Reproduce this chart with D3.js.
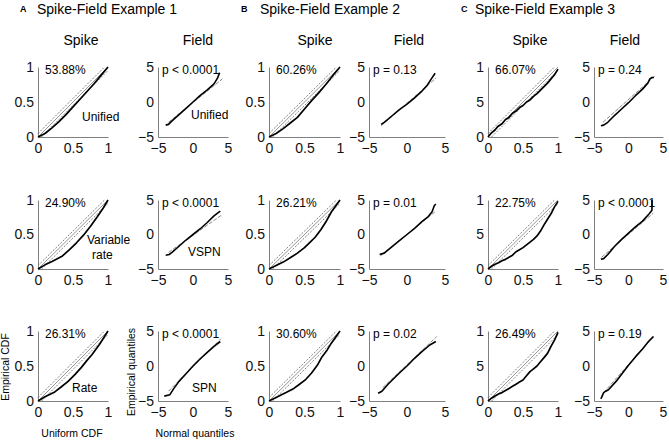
<!DOCTYPE html>
<html>
<head>
<meta charset="utf-8">
<script src="https://cdn.jsdelivr.net/npm/d3@7"></script>
<style>
  body { margin: 0; background: #fff; }
  svg { display: block; font-family: "Liberation Sans", Arial, sans-serif; }
</style>
</head>
<body>
<div id="chart"></div>
<script>
// ---- data ----
const letters = ["A", "B", "C"];
const exampleTitles = ["Spike-Field Example 1", "Spike-Field Example 2", "Spike-Field Example 3"];
const spikeModels = ["Unified", "Variable rate", "Rate"];
const fieldModels = ["Unified", "VSPN", "SPN"];

// KS percent per example (columns) and model (rows)
const ksPercent = [
    ["53.88%", "24.90%", "26.31%"],
    ["60.26%", "26.21%", "30.60%"],
    ["66.07%", "22.75%", "26.49%"]
];
const pValues = [
    ["p < 0.0001", "p < 0.0001", "p < 0.0001"],
    ["p = 0.13", "p = 0.01", "p = 0.02"],
    ["p = 0.24", "p < 0.0001", "p = 0.19"]
];

const spikeTicks = [0, 0.5, 1];
const spikeTickLabels = [["0", "0.5", "1"], ["0", "0.5", "1"], ["0", "5", "1"]];
const fieldTicks = [-5, 0, 5];
const ksBand = 0.05;

// empirical CDF vs uniform CDF  [uniform, empirical]
const ksCurves = [
    [
        [[0,0],[0.1,0.05],[0.2,0.13],[0.3,0.22],[0.4,0.32],[0.5,0.43],[0.6,0.54],[0.7,0.65],[0.8,0.76],[0.9,0.88],[1,1]],
        [[0,0],[0.1,0.06],[0.2,0.11],[0.35,0.19],[0.45,0.28],[0.55,0.38],[0.65,0.49],[0.75,0.62],[0.85,0.76],[0.93,0.88],[1,1]],
        [[0,0],[0.1,0.06],[0.24,0.13],[0.33,0.2],[0.43,0.28],[0.53,0.38],[0.62,0.48],[0.7,0.58],[0.77,0.66],[0.88,0.81],[1,1]]
    ],
    [
        [[0,0],[0.1,0.05],[0.2,0.12],[0.3,0.2],[0.4,0.28],[0.5,0.4],[0.6,0.52],[0.7,0.63],[0.8,0.75],[0.9,0.88],[1,1]],
        [[0,0],[0.1,0.05],[0.2,0.1],[0.31,0.17],[0.4,0.23],[0.5,0.31],[0.58,0.39],[0.65,0.46],[0.73,0.57],[0.8,0.68],[0.88,0.83],[1,1]],
        [[0,0],[0.1,0.05],[0.24,0.12],[0.35,0.18],[0.43,0.24],[0.52,0.31],[0.6,0.4],[0.68,0.51],[0.74,0.62],[0.82,0.73],[0.88,0.83],[1,1]]
    ],
    [
        [[0,0],[0.05,0.06],[0.1,0.1],[0.14,0.15],[0.2,0.19],[0.25,0.25],[0.3,0.28],[0.35,0.34],[0.4,0.37],[0.45,0.42],[0.5,0.45],[0.55,0.5],[0.6,0.53],[0.65,0.58],[0.7,0.62],[0.75,0.67],[0.8,0.72],[0.85,0.77],[0.9,0.83],[0.95,0.89],[1,0.97]],
        [[0,0],[0.05,0.04],[0.1,0.07],[0.15,0.09],[0.2,0.12],[0.25,0.14],[0.3,0.17],[0.35,0.2],[0.4,0.25],[0.45,0.28],[0.5,0.31],[0.55,0.35],[0.6,0.39],[0.65,0.43],[0.7,0.48],[0.75,0.55],[0.8,0.64],[0.85,0.72],[0.9,0.8],[0.95,0.9],[1,0.98]],
        [[0,0],[0.05,0.04],[0.1,0.07],[0.15,0.1],[0.2,0.12],[0.25,0.15],[0.3,0.18],[0.35,0.21],[0.4,0.24],[0.45,0.27],[0.5,0.3],[0.55,0.36],[0.6,0.42],[0.65,0.46],[0.7,0.5],[0.75,0.56],[0.8,0.62],[0.85,0.68],[0.9,0.78],[0.95,0.87],[1,0.98]]
    ]
];

// normal QQ  [normal quantile, empirical quantile]
const qqCurves = [
    [
        [[-3.9,-3.3],[-3.5,-3.2],[-3,-2.7],[-2,-1.8],[-1,-0.9],[0,0],[1,0.9],[2,1.7],[3,2.6],[3.5,3.4],[3.8,4.2]],
        [[-3.9,-3.0],[-3.4,-2.9],[-3,-2.6],[-2,-1.7],[-1,-0.8],[0,0],[1,0.8],[2,1.7],[3,2.7],[3.5,3.1],[3.9,3.4]],
        [[-4.1,-4.3],[-3.3,-4.1],[-2.8,-3.3],[-2,-2.2],[-1,-1.1],[0,0],[1,1],[2,1.9],[3,2.8],[3.9,3.5]]
    ],
    [
        [[-3.4,-3.2],[-3,-2.9],[-2,-2.0],[-1,-1.1],[0,-0.3],[1,0.6],[2,1.6],[2.6,2.3],[3.2,3.3],[3.7,4.1]],
        [[-3.6,-2.9],[-3,-2.7],[-2,-1.8],[-1,-0.9],[0,0],[1,0.9],[2,1.9],[2.8,2.6],[3.3,3.3],[3.6,4.2],[3.8,4.4]],
        [[-3.8,-3.9],[-3.3,-3.6],[-2.5,-2.6],[-1,-1],[0,0],[1,1.1],[2,2.1],[3,3.0],[3.8,3.5]]
    ],
    [
        [[-4.0,-3.4],[-3.6,-3.3],[-3,-2.9],[-2,-1.9],[-1,-1],[0,-0.1],[1,0.9],[2,1.8],[2.8,2.7],[3.1,3.3],[3.4,3.5],[3.7,3.5]],
        [[-4.0,-3.6],[-3.6,-3.5],[-3,-2.9],[-2,-1.7],[-1,-0.7],[0,0.2],[1,1.1],[2,1.9],[3,3.0],[3.4,3.5],[3.4,5.0]],
        [[-4.0,-4.7],[-3.6,-3.8],[-3.3,-3.6],[-2.9,-3.4],[-1.8,-2.2],[0,0.1],[1,1.3],[2,2.4],[2.9,3.5],[3.6,4.2]]
    ]
];
// reference lines of the QQ plots, [[x0,y0],[x1,y1]]
const qqRefLines = [
    [[[-3.5,-2.9],[4.2,3.3]], [[-3.5,-2.6],[4.2,2.9]], [[-3.5,-3.6],[4.0,3.9]]],
    [[[-3.4,-3.4],[3.8,3.4]], [[-3.5,-3.1],[3.8,3.4]], [[-3.2,-3.1],[3.9,4.2]]],
    [[[-3.7,-2.9],[3.8,3.7]], [[-3.9,-3.3],[3.6,3.1]], [[-3.6,-3.8],[3.7,4.3]]]
];

// ---- layout ----
const W = 669, H = 440;
const cols = [
    { spike: [38, 108], field: [158, 228], titleX: 37, letterX: 20, spikeHead: 81, fieldHead: 198 },
    { spike: [269, 340], field: [369, 445], titleX: 260, letterX: 241, spikeHead: 315, fieldHead: 409 },
    { spike: [488, 558], field: [594, 663], titleX: 475, letterX: 461, spikeHead: 530, fieldHead: 625 }
];
const rows = [[67, 137], [200, 269], [331, 401]];
const axisColor = '#808080';

const svg = d3.select('#chart').append('svg')
    .attr('width', W)
    .attr('height', H);

function drawAxes(g, x, y, xTicks, yTicks, xFmt, yFmt) {
    const xa = g.append('g')
        .attr('transform', `translate(0,${y.range()[0]})`)
        .call(d3.axisBottom(x).tickValues(xTicks).tickSize(0).tickPadding(6).tickFormat(xFmt));
    const ya = g.append('g')
        .attr('transform', `translate(${x.range()[0]},0)`)
        .call(d3.axisLeft(y).tickValues(yTicks).tickSize(0).tickPadding(4).tickFormat(yFmt));
    [xa, ya].forEach(a => {
        a.select('.domain').attr('stroke', axisColor).attr('stroke-width', 1);
        a.selectAll('text').attr('font-size', '14px').attr('fill', '#111')
            .attr('font-family', '"Liberation Sans", Arial, sans-serif');
    });
}

const minus = d => d < 0 ? '\u2212' + Math.abs(d) : String(d);

cols.forEach((c, ci) => {
    // title
    svg.append('text').attr('x', c.letterX).attr('y', 12)
        .attr('font-size', '9px').attr('font-weight', 'bold').text(letters[ci]);
    svg.append('text').attr('x', c.titleX).attr('y', 14)
        .attr('font-size', '14px').text(exampleTitles[ci]);
    svg.append('text').attr('x', c.spikeHead).attr('y', 45)
        .attr('text-anchor', 'middle').attr('font-size', '14px').text('Spike');
    svg.append('text').attr('x', c.fieldHead).attr('y', 45)
        .attr('text-anchor', 'middle').attr('font-size', '14px').text('Field');

    rows.forEach((r, ri) => {
        // ---- spike KS plot ----
        const xs = d3.scaleLinear().domain([0, 1]).range(c.spike);
        const ys = d3.scaleLinear().domain([0, 1]).range([r[1], r[0]]);
        const gs = svg.append('g');
        drawAxes(gs, xs, ys, spikeTicks, spikeTicks,
            (d, i) => ['0', '0.5', '1'][i], (d, i) => spikeTickLabels[ci][i]);

        const line = d3.line().x(d => xs(d[0])).y(d => ys(d[1]));
        const clip = pts => pts.map(p => [Math.max(0, Math.min(1, p[0])), Math.max(0, Math.min(1, p[1]))]);
        gs.append('path').attr('d', line([[0, 0], [1, 1]]))
            .attr('fill', 'none').attr('stroke', '#8a8a8a').attr('stroke-width', 0.9);
        [ksBand, -ksBand].forEach(b => {
            const pts = b > 0 ? [[0, b], [1 - b, 1]] : [[-b, 0], [1, 1 + b]];
            gs.append('path').attr('d', line(clip(pts)))
                .attr('fill', 'none').attr('stroke', '#707070').attr('stroke-width', 0.9)
                .attr('stroke-dasharray', '2,1.5');
        });
        gs.append('path').attr('d', line(ksCurves[ci][ri]))
            .attr('fill', 'none').attr('stroke', '#000').attr('stroke-width', 1.7)
            .attr('stroke-linejoin', 'round');
        gs.append('text').attr('x', c.spike[0] + 7).attr('y', r[0] + 7)
            .attr('font-size', '12px').text(ksPercent[ci][ri]);

        // ---- field QQ plot ----
        const xf = d3.scaleLinear().domain([-5, 5]).range(c.field);
        const yf = d3.scaleLinear().domain([-5, 5]).range([r[1], r[0]]);
        const gf = svg.append('g');
        drawAxes(gf, xf, yf, fieldTicks, fieldTicks, minus, minus);
        const lf = d3.line().x(d => xf(d[0])).y(d => yf(d[1]));
        gf.append('path').attr('d', lf(qqRefLines[ci][ri]))
            .attr('fill', 'none').attr('stroke', '#8a8a8a').attr('stroke-width', 1)
            .attr('stroke-dasharray', '4,1.5');
        gf.append('path').attr('d', lf(qqCurves[ci][ri]))
            .attr('fill', 'none').attr('stroke', '#000').attr('stroke-width', 1.6)
            .attr('stroke-linejoin', 'round');
        gf.append('text').attr('x', c.field[0] + 4).attr('y', r[0] + 7)
            .attr('font-size', '12px').text(pValues[ci][ri]);
    });
});

// model names (example 1 only)
const spikeNamePos = [[[82, 121]], [[87, 244], [92, 259]], [[72, 392]]];
const fieldNamePos = [[191, 119], [188, 256], [192, 392]];
spikeModels.forEach((m, i) => {
    const words = i === 1 ? m.split(' ') : [m];
    words.forEach((w, k) => {
        svg.append('text').attr('x', spikeNamePos[i][k][0]).attr('y', spikeNamePos[i][k][1])
            .attr('font-size', '12px').text(w);
    });
});
fieldModels.forEach((m, i) => {
    svg.append('text').attr('x', fieldNamePos[i][0]).attr('y', fieldNamePos[i][1])
        .attr('font-size', '12px').text(m);
});

// axis titles
svg.append('text').attr('x', 72).attr('y', 437).attr('text-anchor', 'middle')
    .attr('font-size', '10.5px').text('Uniform CDF');
svg.append('text').attr('x', 195).attr('y', 437).attr('text-anchor', 'middle')
    .attr('font-size', '10.5px').text('Normal quantiles');
svg.append('text').attr('transform', 'translate(9,367) rotate(-90)').attr('text-anchor', 'middle')
    .attr('font-size', '10.5px').text('Empirical CDF');
svg.append('text').attr('transform', 'translate(135,372) rotate(-90)').attr('text-anchor', 'middle')
    .attr('font-size', '10.5px').text('Empirical quantiles');
</script>
</body>
</html>
